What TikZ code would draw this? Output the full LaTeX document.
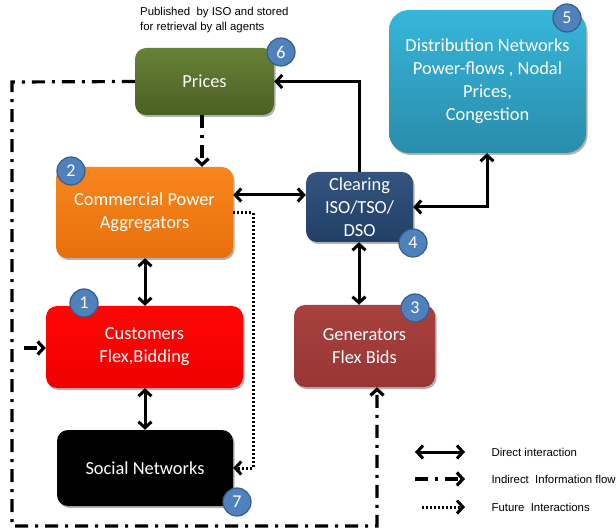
\documentclass[tikz,border=0pt]{standalone}
\usepackage{fontspec}
\setmainfont{Carlito}
\newfontfamily\arialfont{Liberation Sans}
\usetikzlibrary{arrows.meta,shadows}

\definecolor{priceTop}{HTML}{668236}
\definecolor{priceBot}{HTML}{4B5F24}
\definecolor{distTop}{HTML}{36B6DA}
\definecolor{distBot}{HTML}{2A8CAA}
\definecolor{commTop}{HTML}{F7861C}
\definecolor{commBot}{HTML}{E8700C}
\definecolor{clrTop}{HTML}{34547F}
\definecolor{clrBot}{HTML}{213F66}
\definecolor{custTop}{HTML}{FF0606}
\definecolor{custBot}{HTML}{F00000}
\definecolor{genTop}{HTML}{A8413E}
\definecolor{genBot}{HTML}{983634}
\definecolor{badgeFill}{HTML}{4F81BD}
\definecolor{badgeLine}{HTML}{385D8A}

\begin{document}
\begin{tikzpicture}[x=1pt,y=-1pt,
  >={Straight Barb[length=6pt,width=13pt]},
  box/.style={rounded corners=11pt, inner sep=0pt, align=center, text=white,
    font=\fontsize{18.4}{23}\selectfont,
    drop shadow={shadow xshift=1.5pt, shadow yshift=-2pt, opacity=0.3, fill=black}},
  badge/.style={circle, draw=badgeLine, line width=1.2pt, fill=badgeFill,
    minimum size=28pt, inner sep=0pt, text=white, font=\fontsize{18}{18}\selectfont},
  direct/.style={line width=3pt, <->},
  solidarrow/.style={line width=3pt, ->},
  indirect/.style={line width=3.2pt, ->, dash pattern=on 13pt off 7pt on 3pt off 7pt},
  future/.style={line width=3pt, ->, dash pattern=on 2.2pt off 1.8pt},
  note/.style={font=\arialfont\fontsize{11.4}{15.5}\selectfont, align=left, text=black}]

\useasboundingbox (0,0) rectangle (616,529);

% agents
\node[box, top color=priceTop, bottom color=priceBot,
  minimum width=139pt, minimum height=67pt] (prices) at (204.5,81.5) {Prices};
\node[box, rounded corners=20pt, top color=distTop, bottom color=distBot,
  minimum width=197pt, minimum height=143pt] (dist) at (487.5,81.5)
  {Distribution Networks\\Power-flows , Nodal\\Prices,\\Congestion};
\node[box, top color=commTop, bottom color=commBot,
  minimum width=177pt, minimum height=91pt] (comm) at (144.5,212.5)
  {Commercial Power\\Aggregators};
\node[box, top color=clrTop, bottom color=clrBot,
  minimum width=107pt, minimum height=70pt] (clr) at (359.5,207)
  {Clearing\\ISO/TSO/\\DSO};
\node[box, top color=custTop, bottom color=custBot,
  minimum width=197pt, minimum height=82pt] (cust) at (144.5,347)
  {Customers\\Flex,Bidding};
\node[box, top color=genTop, bottom color=genBot,
  minimum width=141pt, minimum height=82pt] (gen) at (364.5,346)
  {Generators\\Flex Bids};
\node[box, fill=black, minimum width=176pt, minimum height=76pt] (soc) at (145,468)
  {Social Networks};

% numbering badges
\node[badge] (b6) at (281,52) {6};
\node[badge] (b5) at (567,18) {5};
\node[badge] (b2) at (71,171) {2};
\node[badge] (b4) at (413,243) {4};
\node[badge] (b1) at (84,303) {1};
\node[badge] (b3) at (415,308) {3};
\node[badge] (b7) at (237,502) {7};

% annotation above the price box
\node[note, anchor=north west, inner sep=0pt] (pubnote) at (140,7)
  {Published\ \ by ISO and stored\\for retrieval by all agents};

% direct interactions
\draw[direct] (comm.east |- 0,195) -- (clr.west |- 0,195);
\draw[direct] (comm.south -| 145,0) -- (cust.north -| 145,0);
\draw[direct] (cust.south -| 145,0) -- (soc.north -| 145,0);
\draw[direct] (clr.south -| 359,0) -- (gen.north -| 359,0);
\draw[direct] (dist.south -| 487,0) |- (clr.east);
\draw[solidarrow] (clr.north -| 359,0) |- (prices.east);

% indirect information flow
\coordinate (loopTL) at (12,82);
\coordinate (loopBL) at (12,526);
\coordinate (loopBR) at (377,526);
\coordinate (custTap) at (24,348);
\draw[indirect] (prices.south -| 202,0) -- (comm.north -| 202,0);
\draw[indirect] (prices.west) -- (loopTL) -- (loopBL) -- (loopBR) -- (gen.south -| loopBR);
\draw[indirect] (custTap) -- (cust.west |- custTap);

% future interactions
\coordinate (futCorner) at (253,213);
\draw[future] (comm.east |- futCorner) -- (futCorner) |- (soc.east);

% legend
\node[note, anchor=west] (leg1) at (488,452) {Direct interaction};
\node[note, anchor=west] (leg2) at (488,479) {Indirect\ \ Information flow};
\node[note, anchor=west] (leg3) at (488,507) {Future\ \ Interactions};
\coordinate (l1a) at (415,452); \coordinate (l1b) at (465,452);
\coordinate (l2a) at (415,479); \coordinate (l2b) at (465,479);
\coordinate (l3a) at (422,507); \coordinate (l3b) at (465,507);
\draw[direct] (l1a) -- (l1b);
\draw[indirect] (l2a) -- (l2b);
\draw[future] (l3a) -- (l3b);
\end{tikzpicture}
\end{document}
